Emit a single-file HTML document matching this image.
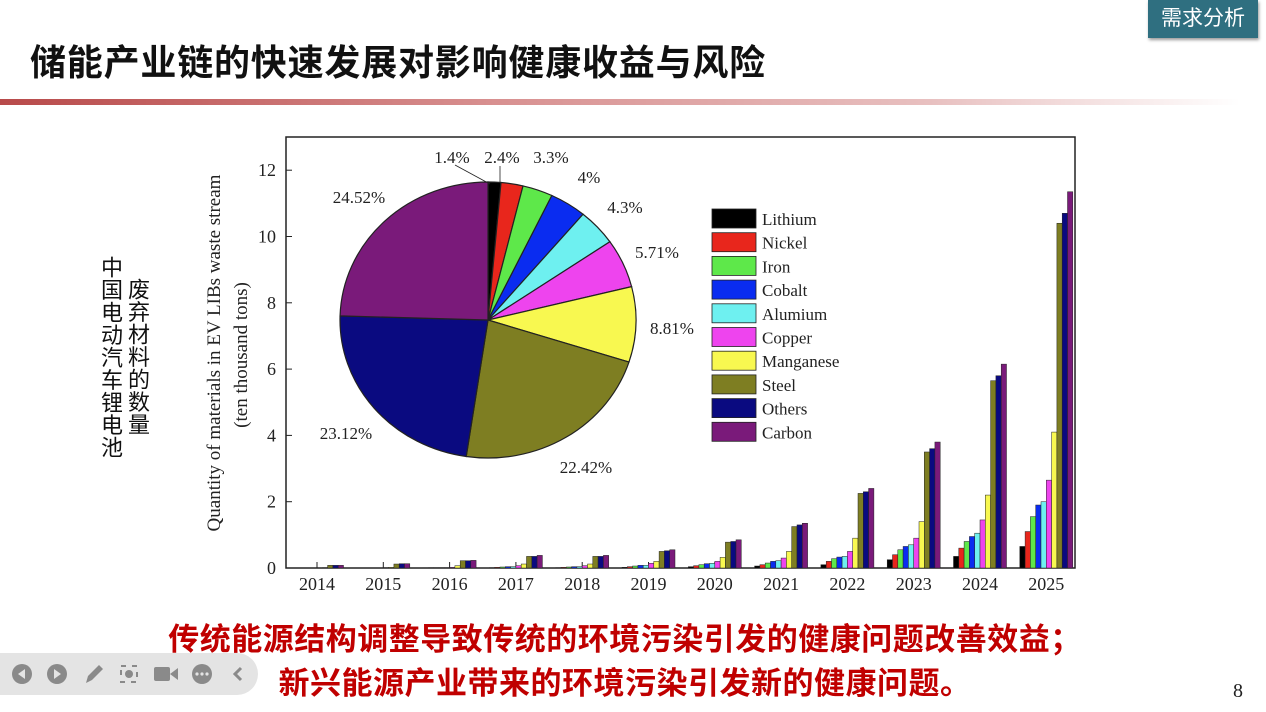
<!DOCTYPE html>
<html><head><meta charset="utf-8">
<style>
body{margin:0;width:1266px;height:712px;background:#fff;position:relative;overflow:hidden;font-family:"Liberation Sans","Noto Sans CJK SC",sans-serif}
.abs{position:absolute}
#title{left:30px;top:34px;font-size:36px;font-weight:bold;color:#111;letter-spacing:0.8px;white-space:nowrap}
#tag{left:1148px;top:0;width:110px;height:38px;background:#2f6f80;color:#fff;font-size:21px;line-height:38px;text-align:center;box-shadow:1px 2px 3px #999}
#rule{left:0;top:99px;width:1240px;height:6px;background:linear-gradient(90deg,#b84a4a,#d89090 40%,#e8c0c0 75%,#fff)}
.vt{writing-mode:vertical-rl;font-size:22px;color:#111;line-height:24px;width:24px;letter-spacing:0.5px}
#bottom{left:75px;top:618px;width:1100px;text-align:center;color:#c00000;font-weight:bold;font-size:31px;letter-spacing:0.5px;line-height:44px;white-space:nowrap}
#toolbar{left:0;top:653px;width:258px;height:42px;background:#e4e4e4;border-radius:0 21px 21px 0}
#pg{left:1233px;top:680px;font-family:"Liberation Serif",serif;font-size:20px;color:#222}
</style></head><body>
<div id="title" class="abs">储能产业链的快速发展对影响健康收益与风险</div>
<div id="tag" class="abs">需求分析</div>
<div id="rule" class="abs"></div>
<div class="abs vt" style="left:98px;top:256px">中国电动汽车锂电池</div>
<div class="abs vt" style="left:125px;top:278px">废弃材料的数量</div>
<svg id="chart" class="abs" style="left:0;top:0" width="1266" height="712"></svg>
<div id="bottom" class="abs">传统能源结构调整导致传统的环境污染引发的健康问题改善效益；<br>新兴能源产业带来的环境污染引发新的健康问题。</div>
<div id="toolbar" class="abs">
<svg width="258" height="42">
<g fill="#8a8a8a">
<circle cx="22" cy="21" r="10"/><polygon points="18,21 25,16 25,26" fill="#e4e4e4"/>
<circle cx="57" cy="21" r="10"/><polygon points="61,21 54,16 54,26" fill="#e4e4e4"/>
<polygon points="86,30 88,23 99,12 103,16 92,27"/>
<rect x="121" y="13" width="16" height="16" fill="none" stroke="#8a8a8a" stroke-width="2" stroke-dasharray="5 6"/><circle cx="129" cy="21" r="4"/>
<rect x="154" y="14" width="16" height="14" rx="2"/><polygon points="170,21 178,15 178,27"/>
<circle cx="202" cy="21" r="10"/>
<circle cx="197" cy="21" r="1.6" fill="#e4e4e4"/><circle cx="202" cy="21" r="1.6" fill="#e4e4e4"/><circle cx="207" cy="21" r="1.6" fill="#e4e4e4"/>
<polyline points="241,15 235,21 241,27" fill="none" stroke="#8a8a8a" stroke-width="3"/>
</g></svg></div>
<div id="pg" class="abs">8</div>
<script>
const years=["2014","2015","2016","2017","2018","2019","2020","2021","2022","2023","2024","2025"];
const materials=["Lithium","Nickel","Iron","Cobalt","Alumium","Copper","Manganese","Steel","Others","Carbon"];
const colors=["#000000","#e8261c","#5ee84a","#0a2cf0","#6ef0f0","#ee44ee","#f8f850","#7e7e22","#0a0a80","#7a1a7a"];
const barValues=[
[0,0,0,0,0,0,0.01,0.08,0.08,0.08],
[0,0,0,0,0,0.01,0.02,0.12,0.13,0.13],
[0.005,0.01,0.01,0.01,0.01,0.02,0.07,0.22,0.22,0.23],
[0.01,0.02,0.03,0.04,0.04,0.07,0.12,0.35,0.35,0.38],
[0.01,0.02,0.03,0.04,0.04,0.07,0.12,0.35,0.35,0.38],
[0.02,0.04,0.06,0.08,0.08,0.14,0.2,0.5,0.52,0.55],
[0.04,0.07,0.1,0.13,0.14,0.2,0.32,0.78,0.8,0.85],
[0.06,0.1,0.15,0.2,0.22,0.3,0.5,1.25,1.3,1.35],
[0.1,0.2,0.28,0.33,0.35,0.5,0.9,2.25,2.3,2.4],
[0.25,0.4,0.55,0.65,0.7,0.9,1.4,3.5,3.6,3.8],
[0.35,0.6,0.8,0.95,1.05,1.45,2.2,5.65,5.8,6.15],
[0.65,1.1,1.55,1.9,2.0,2.65,4.1,10.4,10.7,11.35]];
const yTicks=[0,2,4,6,8,10,12];
const pieValues=[1.4,2.4,3.3,4,4.3,5.71,8.81,22.42,23.12,24.52];
const pieLabels=["1.4%","2.4%","3.3%","4%","4.3%","5.71%","8.81%","22.42%","23.12%","24.52%"];
const pieLabelPos=[[452,157],[502,157],[551,157],[589,177],[625,207],[657,252],[672,328],[586,467],[346,433],[359,197]];

const NS="http://www.w3.org/2000/svg",svg=document.getElementById('chart');
function mk(t,a,p){const e=document.createElementNS(NS,t);for(const k in a)e.setAttribute(k,a[k]);(p||svg).appendChild(e);return e;}
const X0=286,X1=1075,Y0=568,YT=137;
const y=v=>Y0-v*33.15;
const gx=i=>317+i*66.3;
const BW=5.3;
const SERIF='Liberation Serif,serif';
const frame=mk('rect',{x:X0,y:YT,width:X1-X0,height:Y0-YT,fill:'none',stroke:'#222','stroke-width':1.5});


yTicks.forEach(t=>{
 mk('line',{x1:X0,x2:X0+6,y1:y(t),y2:y(t),stroke:'#222'});
 const tx=mk('text',{x:X0-10,y:y(t)+6,'text-anchor':'end','font-family':SERIF,'font-size':18,fill:'#222'});
 tx.textContent=t;
 
 
});
years.forEach((yr,i)=>{
 mk('line',{x1:gx(i),x2:gx(i),y1:Y0,y2:Y0-6,stroke:'#222'});
 const tx=mk('text',{x:gx(i),y:Y0+22,'text-anchor':'middle','font-family':SERIF,'font-size':18,fill:'#222'});
 tx.textContent=yr;
 
 
 barValues[i].forEach((v,j)=>{
  const r=mk('rect',{x:gx(i)-26.5+j*BW,y:y(v),width:BW,height:Y0-y(v),fill:colors[j],stroke:'#222','stroke-width':0.5});
  
  
 });
});
const yl=mk('text',{transform:'translate(220,353) rotate(-90)','text-anchor':'middle','font-family':SERIF,'font-size':19,fill:'#222'});
yl.textContent='Quantity of materials in EV LIBs waste stream';


const yl2=mk('text',{transform:'translate(247,355) rotate(-90)','text-anchor':'middle','font-family':SERIF,'font-size':19,fill:'#222'});
yl2.textContent='(ten thousand tons)';


const cx=488,cy=320,rx=148,ry=138;
const tot=pieValues.reduce((a,b)=>a+b,0);
let acc=0;
pieValues.forEach((v,j)=>{
 const a0=acc/tot*2*Math.PI;acc+=v;const a1=acc/tot*2*Math.PI;
 const p0=[cx+rx*Math.sin(a0),cy-ry*Math.cos(a0)],p1=[cx+rx*Math.sin(a1),cy-ry*Math.cos(a1)];
 const large=(a1-a0)>Math.PI?1:0;
 const s=mk('path',{d:`M${cx},${cy}L${p0[0]},${p0[1]}A${rx},${ry} 0 ${large} 1 ${p1[0]},${p1[1]}Z`,fill:colors[j],stroke:'#222','stroke-width':1.2});
 
 
 const lp=pieLabelPos[j];
 const t=mk('text',{x:lp[0],y:lp[1]+6,'text-anchor':'middle','font-family':SERIF,'font-size':17,fill:'#222'});
 t.textContent=pieLabels[j];
 
 
});
mk('line',{x1:455,y1:165,x2:490,y2:184,stroke:'#222','stroke-width':0.8});
mk('line',{x1:500,y1:166,x2:500,y2:183,stroke:'#222','stroke-width':0.8});
materials.forEach((m,j)=>{
 const ly=209+j*23.7;
 const r=mk('rect',{x:712,y:ly,width:44,height:19,fill:colors[j],stroke:'#222','stroke-width':0.8});
 
 
 const t=mk('text',{x:762,y:ly+16,'font-family':SERIF,'font-size':17,fill:'#222'});
 t.textContent=m;
 
 
});
</script>
</body></html>
